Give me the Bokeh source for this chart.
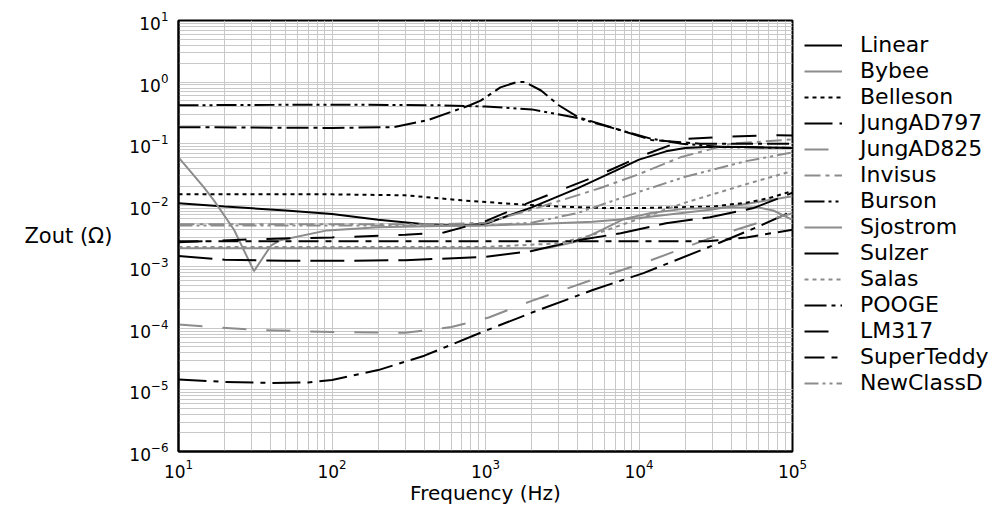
from bokeh.plotting import figure
from bokeh.models import Legend, LegendItem
from bokeh.embed import file_html
from bokeh.resources import INLINE

FONT = "DejaVu Sans"
BLACK = "#000000"
GRAY = "#8c8c8c"

# ---- data (frequency in Hz, Zout in ohm) ----
linear_f = [10, 20, 50, 100, 200, 400, 700, 1000, 2000, 4000, 7000, 10000, 15000, 20000, 30000, 50000, 100000]
linear_z = [0.0108, 0.0095, 0.0082, 0.0072, 0.0058, 0.0049, 0.0047, 0.0050, 0.0092, 0.019, 0.036, 0.055, 0.075, 0.085, 0.089, 0.088, 0.085]

bybee_f = [10, 14.6, 17, 23, 31, 40, 46, 93, 200, 500, 1000, 2000, 5000, 10000, 30000, 100000]
bybee_z = [0.06, 0.0196, 0.012, 0.004, 0.00085, 0.0022, 0.0027, 0.0039, 0.0044, 0.0046, 0.0047, 0.0049, 0.0054, 0.0062, 0.0085, 0.014]

belleson_f = [10, 100, 300, 700, 1500, 3000, 6000, 10000, 30000, 50000, 70000, 100000]
belleson_z = [0.015, 0.015, 0.0145, 0.012, 0.0105, 0.0095, 0.009, 0.009, 0.0095, 0.011, 0.013, 0.017]

jung797_f = [10, 20, 40, 70, 100, 200, 400, 930, 2000, 5000, 10700, 30000, 60000, 100000]
jung797_z = [1.48e-5, 1.35e-5, 1.3e-5, 1.32e-5, 1.45e-5, 2.1e-5, 3.6e-5, 8.5e-5, 1.8e-4, 4.2e-4, 7.9e-4, 2.2e-3, 4.5e-3, 8e-3]

jung825_f = [10, 30, 100, 300, 600, 1050, 2000, 5000, 10700, 30000, 60000, 100000]
jung825_z = [1.15e-4, 9.5e-5, 8.7e-5, 8.5e-5, 1.05e-4, 1.5e-4, 2.8e-4, 6.2e-4, 1.15e-3, 3.0e-3, 5.2e-3, 7.4e-3]

invisus_f = [10, 100, 500, 1000, 2000, 5600, 10000, 18600, 40000, 100000]
invisus_z = [0.0049, 0.0049, 0.0049, 0.0052, 0.0085, 0.019, 0.032, 0.06, 0.1, 0.117]

burson_f = [10, 100, 500, 1000, 2000, 4000, 7600, 12000, 19000, 34000, 100000]
burson_z = [0.42, 0.43, 0.42, 0.40, 0.36, 0.26, 0.165, 0.12, 0.1, 0.088, 0.085]

sjostrom_f = [10, 100, 1000, 2500, 4000, 6000, 8000, 12000, 20000, 40000, 60000, 75000, 100000]
sjostrom_z = [0.002, 0.002, 0.002, 0.002, 0.0026, 0.0042, 0.006, 0.0075, 0.0088, 0.0092, 0.0092, 0.0082, 0.0058]

sulzer_f = [10, 20, 50, 100, 300, 1000, 2000, 4000, 7600, 15000, 29000, 55000, 85000, 100000]
sulzer_z = [0.0015, 0.0013, 0.00125, 0.00125, 0.00128, 0.00145, 0.0018, 0.0027, 0.0035, 0.0051, 0.0064, 0.0089, 0.0135, 0.016]

salas_f = [10, 1000, 3000, 5000, 10000, 20000, 50000, 100000]
salas_z = [0.0021, 0.0021, 0.0024, 0.0033, 0.006, 0.011, 0.022, 0.036]

pooge_f = [10, 100, 250, 420, 790, 930, 1250, 1600, 1800, 2300, 3000, 4000, 7600, 12000, 25000, 100000]
pooge_z = [0.185, 0.18, 0.185, 0.24, 0.42, 0.5, 0.82, 1.0, 1.0, 0.73, 0.42, 0.27, 0.165, 0.115, 0.1, 0.1]

lm317_f = [10, 30, 100, 300, 535, 1000, 1950, 5500, 10700, 20600, 39000, 80000, 100000]
lm317_z = [0.0025, 0.0028, 0.003, 0.0033, 0.0036, 0.0055, 0.0112, 0.031, 0.065, 0.12, 0.13, 0.137, 0.135]

superteddy_f = [10, 100, 1000, 10000, 28000, 50000, 100000]
superteddy_z = [0.0026, 0.0026, 0.0026, 0.0026, 0.0026, 0.003, 0.004]

newclassd_f = [10, 1000, 2000, 4000, 10000, 20000, 50000, 100000]
newclassd_z = [0.0047, 0.0047, 0.0052, 0.0075, 0.0165, 0.029, 0.052, 0.072]

# name, x, y, colour, dash
series = [
    ("Linear", linear_f, linear_z, BLACK, "solid"),
    ("Bybee", bybee_f, bybee_z, GRAY, "solid"),
    ("Belleson", belleson_f, belleson_z, BLACK, "4 4"),
    ("JungAD797", jung797_f, jung797_z, BLACK, "28 7 5 7"),
    ("JungAD825", jung825_f, jung825_z, GRAY, "24 20"),
    ("Invisus", invisus_f, invisus_z, GRAY, "16 5 4 5"),
    ("Burson", burson_f, burson_z, BLACK, "20 4 3 4 3 4"),
    ("Sjostrom", sjostrom_f, sjostrom_z, GRAY, "solid"),
    ("Sulzer", sulzer_f, sulzer_z, BLACK, "34 10"),
    ("Salas", salas_f, salas_z, GRAY, "4 4"),
    ("POOGE", pooge_f, pooge_z, BLACK, "22 5 4 5"),
    ("LM317", lm317_f, lm317_z, BLACK, "24 20"),
    ("SuperTeddy", superteddy_f, superteddy_z, BLACK, "20 7 6 7"),
    ("NewClassD", newclassd_f, newclassd_z, GRAY, "14 4 3 4 3 4"),
]

p = figure(frame_width=614, frame_height=431, x_axis_type="log", y_axis_type="log",
           x_range=(10, 1e5), y_range=(1e-6, 10),
           output_backend="svg", toolbar_location=None,
           min_border_left=178, min_border_top=20, min_border_bottom=54,
           min_border_right=0)
p.background_fill_color = "white"
p.border_fill_color = "white"
p.outline_line_color = "black"
p.outline_line_width = 2

for g in (p.xgrid, p.ygrid):
    g.grid_line_color = "#c8c8c8"
    g.grid_line_width = 1
    g.minor_grid_line_color = "#c8c8c8"
    g.minor_grid_line_width = 1

for ax in (p.xaxis, p.yaxis):
    ax.major_tick_line_color = None
    ax.minor_tick_line_color = None
    ax.major_tick_out = 0
    ax.major_tick_in = 0
    ax.minor_tick_out = 0
    ax.minor_tick_in = 0
    ax.axis_line_color = "black"
    ax.axis_line_width = 2
    ax.major_label_text_font = FONT
    ax.major_label_text_font_size = "17px"
    ax.major_label_text_color = "black"
    ax.axis_label_text_font = FONT
    ax.axis_label_text_font_size = "20px"
    ax.axis_label_text_font_style = "normal"
    ax.axis_label_text_color = "black"

p.xaxis.axis_label = "Frequency (Hz)"
p.xaxis.major_label_standoff = 7
p.xaxis.axis_label_standoff = 0
p.yaxis.axis_label = "Zout (\u03a9)"
p.yaxis.major_label_standoff = 10
p.yaxis.axis_label_standoff = 14
p.yaxis.axis_label_text_font_size = "21px"
p.yaxis.axis_label_orientation = "horizontal"

items = []
for name, fx, zy, col, dash in series:
    r = p.line(fx, zy, line_color=col, line_width=2, line_dash=dash)
    items.append(LegendItem(label=name, renderers=[r]))

legend = Legend(items=items, location="top_left")
legend.margin = 12
legend.padding = 0
legend.border_line_color = None
legend.background_fill_alpha = 0
legend.label_text_font = FONT
legend.label_text_font_size = "22px"
legend.label_text_color = "black"
legend.glyph_width = 38
legend.glyph_height = 20
legend.label_height = 20
legend.spacing = 1
legend.label_standoff = 18
p.add_layout(legend, "right")

open("out.html", "w").write(file_html(p, INLINE))
